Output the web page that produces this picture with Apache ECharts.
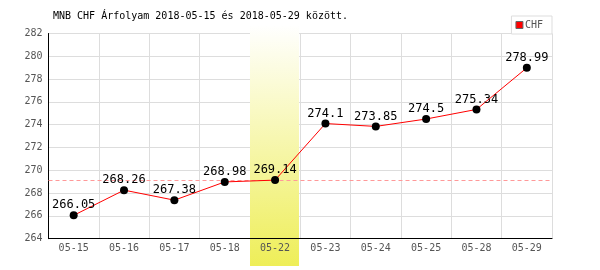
<!DOCTYPE html>
<html>
<head>
<meta charset="utf-8">
<script src="https://cdn.jsdelivr.net/npm/echarts@6/dist/echarts.min.js"></script>
<style>html,body{margin:0;padding:0;background:#fff}#c{width:600px;height:270px}</style>
</head>
<body>
<div id="c"></div>
<script>
var categories = ['05-15','05-16','05-17','05-18','05-22','05-23','05-24','05-25','05-28','05-29'];
var values = [266.05, 268.26, 267.38, 268.98, 269.14, 274.1, 273.85, 274.5, 275.34, 278.99];
var highlightCategory = '05-22';
var referenceValue = 269.14;
var yTicks = {min: 264, max: 282, interval: 2};
var bandRange = [282.75, 261.6];
var titleText = 'MNB CHF Árfolyam 2018-05-15 és 2018-05-29 között.';
var seriesName = 'CHF';

var mono = '"DejaVu Sans Mono", "Liberation Mono", monospace';
var chart = echarts.init(document.getElementById('c'), null, {renderer: 'canvas'});
chart.setOption({
  animation: false,
  backgroundColor: '#fff',
  title: {
    text: titleText, left: 53, top: 11, padding: 0,
    textStyle: {fontFamily: mono, fontSize: 10, fontWeight: 'normal', color: '#000'}
  },
  legend: {
    right: 48, top: 16, orient: 'horizontal',
    data: [{name: seriesName, icon: 'rect', itemStyle: {color: '#ff0000', borderColor: '#666', borderWidth: 1}}],
    itemWidth: 7, itemHeight: 7,
    padding: [4, 9, 4, 4],
    backgroundColor: '#fff', borderColor: '#ddd', borderWidth: 1,
    textStyle: {fontFamily: mono, fontSize: 10, color: '#555', padding: [0,0,0,-3]}
  },
  grid: {left: 48.5, right: 48, top: 33.5, bottom: 31.3, containLabel: false},
  xAxis: [{
    type: 'category', data: categories, boundaryGap: true,
    axisLine: {show: false}, axisTick: {show: false},
    axisLabel: {show: false},
    splitLine: {show: true, interval: 0, lineStyle: {color: '#ddd', width: 1}}
  }, {
    type: 'category', data: categories, position: 'bottom', z: 10,
    axisLine: {show: true, lineStyle: {color: '#000', width: 1}},
    axisTick: {show: false},
    axisLabel: {fontFamily: mono, fontSize: 10, color: '#555', margin: 5, interval: 0},
    splitLine: {show: false}
  }],
  yAxis: {
    type: 'value', min: yTicks.min, max: yTicks.max, interval: yTicks.interval,
    axisLine: {show: true, lineStyle: {color: '#000', width: 1}},
    axisTick: {show: false},
    axisLabel: {fontFamily: mono, fontSize: 10, color: '#555', margin: 6},
    splitLine: {show: true, lineStyle: {color: '#ddd', width: 1}}
  },
  series: [{
    type: 'custom', xAxisIndex: 0, z: 1, silent: true, clip: false,
    data: [[highlightCategory, bandRange[0], bandRange[1]]],
    renderItem: function (params, api) {
      var top = api.coord([api.value(0), api.value(1)]);
      var bot = api.coord([api.value(0), api.value(2)]);
      var w = api.size([1, 0])[0];
      return {
        type: 'rect',
        shape: {x: Math.round(top[0] - w / 2), y: top[1], width: Math.round(w) - 1, height: bot[1] - top[1]},
        style: {fill: new echarts.graphic.LinearGradient(0, 0, 0, 1, [
          {offset: 0, color: '#ffffff'}, {offset: 1, color: '#eeee58'}
        ])}
      };
    }
  }, {
    name: seriesName, type: 'line', xAxisIndex: 0, data: values, z: 5,
    symbol: 'circle', symbolSize: 8,
    itemStyle: {color: '#000'},
    lineStyle: {color: '#ff0000', width: 1},
    label: {show: true, position: 'top', distance: 0, fontFamily: mono, fontSize: 12, color: '#000'},
    markLine: {
      silent: true, symbol: ['none', 'none'], label: {show: false},
      lineStyle: {color: '#ff9999', type: [4, 3], width: 1},
      data: [{yAxis: referenceValue}]
    }
  }]
});
</script>
</body>
</html>
